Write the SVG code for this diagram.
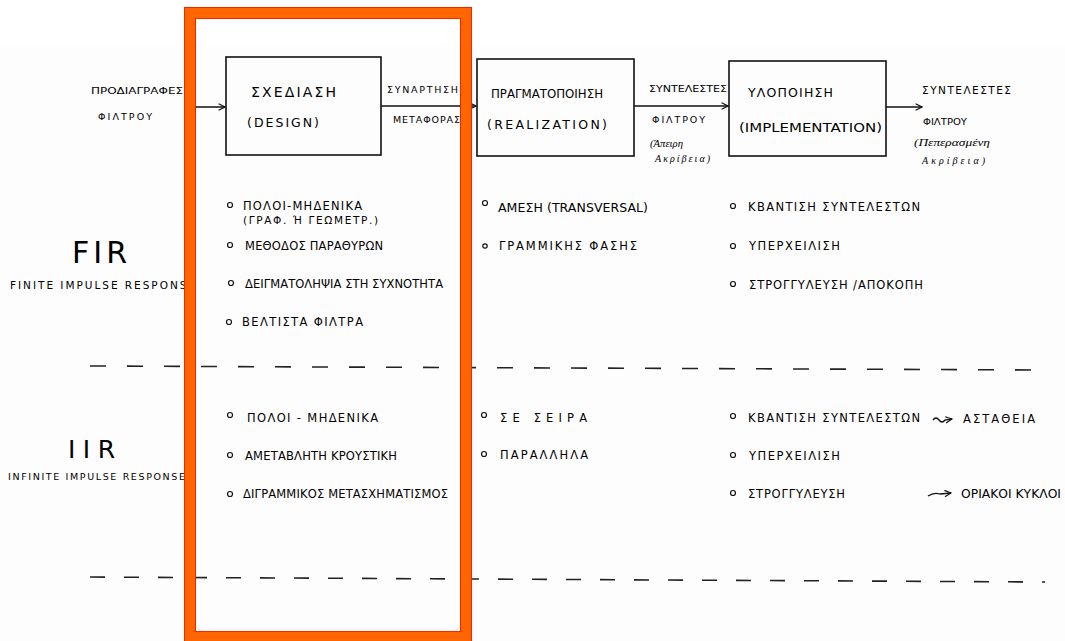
<svg xmlns="http://www.w3.org/2000/svg" width="1065" height="641" viewBox="0 0 1065 641">
<defs>
<style>
.t{font-family:"DejaVu Sans","Liberation Sans",sans-serif;fill:#000;}
.c{font-family:"Liberation Serif","DejaVu Serif",serif;font-style:italic;fill:#000;font-size:10px;}
.box{fill:none;stroke:#111;stroke-width:1.6;}
.ln{fill:none;stroke:#111;stroke-width:1.3;}
.bul{fill:none;stroke:#111;stroke-width:1.2;}
.dash{fill:none;stroke:#222;stroke-width:1.6;}
.s8{font-size:8.5px;}
.s9{font-size:9.5px;}
.s10{font-size:10.5px;}
.s11{font-size:11.5px;}
.s12{font-size:12.5px;}
.s14{font-size:14px;}
</style>
<marker id="ah" viewBox="0 0 10 10" refX="9" refY="5" markerWidth="8" markerHeight="8" markerUnits="userSpaceOnUse" orient="auto">
<path d="M1,1 L9,5 L1,9" fill="none" stroke="#111" stroke-width="1.4"/>
</marker>
</defs>
<rect x="0" y="0" width="1065" height="641" fill="#ffffff"/>
<rect x="0" y="46" width="1065" height="595" fill="#fdfdfd"/>

<g id="input-label">
<text class="t s9" x="91" y="94" textLength="92" lengthAdjust="spacingAndGlyphs">ΠΡΟΔΙΑΓΡΑΦΕΣ</text>
<text class="t s9" x="98" y="120" textLength="54" lengthAdjust="spacing">ΦΙΛΤΡΟΥ</text>
</g>

<g id="design">
<rect class="box" x="226" y="57" width="155" height="98"/>
<text class="t s14" x="251" y="97" textLength="85" lengthAdjust="spacing">ΣΧΕΔΙΑΣΗ</text>
<text class="t s12" x="247" y="127" textLength="72" lengthAdjust="spacing">(DESIGN)</text>
</g>

<g id="transfer-label">
<text class="t s9" x="387" y="93" textLength="71" lengthAdjust="spacing">ΣΥΝΑΡΤΗΣΗ</text>
<text class="t s9" x="393" y="123" textLength="67" lengthAdjust="spacing">ΜΕΤΑΦΟΡΑΣ</text>
</g>

<g id="realization">
<rect class="box" x="477" y="59" width="157" height="97"/>
<text class="t s12" x="491" y="98" textLength="112" lengthAdjust="spacingAndGlyphs">ΠΡΑΓΜΑΤΟΠΟΙΗΣΗ</text>
<text class="t s12" x="487" y="129" textLength="120" lengthAdjust="spacing">(REALIZATION)</text>
</g>

<g id="coef-infinite-label">
<text class="t s8" x="649" y="92" textLength="78" lengthAdjust="spacingAndGlyphs">ΣΥΝΤΕΛΕΣΤΕΣ</text>
<text class="t s9" x="652" y="123" textLength="53" lengthAdjust="spacing">ΦΙΛΤΡΟΥ</text>
<text class="c" x="650" y="147" textLength="33" lengthAdjust="spacingAndGlyphs">(Άπειρη</text>
<text class="c" x="655" y="162" textLength="55" lengthAdjust="spacing">Ακρίβεια)</text>
</g>

<g id="implementation">
<rect class="box" x="729" y="61" width="157" height="95"/>
<text class="t s12" x="748" y="97" textLength="85" lengthAdjust="spacing">ΥΛΟΠΟΙΗΣΗ</text>
<text class="t s12" x="739" y="132" textLength="143" lengthAdjust="spacingAndGlyphs">(IMPLEMENTATION)</text>
</g>

<g id="coef-finite-label">
<text class="t s10" x="922" y="94" textLength="89" lengthAdjust="spacing">ΣΥΝΤΕΛΕΣΤΕΣ</text>
<text class="t s9" x="923" y="125" textLength="44" lengthAdjust="spacingAndGlyphs">ΦΙΛΤΡΟΥ</text>
<text class="c" x="914" y="146" textLength="76" lengthAdjust="spacingAndGlyphs">(Πεπερασμένη</text>
<text class="c" x="922" y="164" textLength="63" lengthAdjust="spacing">Ακρίβεια)</text>
</g>

<g id="connectors">
<line class="ln" x1="184" y1="107" x2="225" y2="107" marker-end="url(#ah)"/>
<line class="ln" x1="381" y1="106" x2="476" y2="106" marker-end="url(#ah)"/>
<line class="ln" x1="634" y1="106" x2="728" y2="106" marker-end="url(#ah)"/>
<line class="ln" x1="886" y1="107" x2="922" y2="107" marker-end="url(#ah)"/>
<path class="ln" d="M933,420 q3,-4 6,0 t6,0 l7,-1" marker-end="url(#ah)"/>
<path class="ln" d="M928,496 q6,-4 12,-2 l11,-1" marker-end="url(#ah)"/>
</g>

<g id="fir">
<text class="t" x="72" y="263" font-size="30" textLength="55" lengthAdjust="spacing">FIR</text>
<text class="t s10" x="10" y="289" textLength="185" lengthAdjust="spacing">FINITE IMPULSE RESPONSE</text>
</g>

<g id="fir-design">
<circle class="bul" cx="230" cy="205" r="2.5"/>
<text class="t s11" x="243" y="210" textLength="119" lengthAdjust="spacing">ΠΟΛΟΙ-ΜΗΔΕΝΙΚΑ</text>
<text class="t s10" x="243" y="224" textLength="135" lengthAdjust="spacing">(ΓΡΑΦ. Ή ΓΕΩΜΕΤΡ.)</text>
<circle class="bul" cx="230" cy="245" r="2.5"/>
<text class="t s11" x="245" y="250" textLength="138" lengthAdjust="spacing">ΜΕΘΟΔΟΣ ΠΑΡΑΘΥΡΩΝ</text>
<circle class="bul" cx="231" cy="283" r="2.5"/>
<text class="t s11" x="245" y="288" textLength="198" lengthAdjust="spacing">ΔΕΙΓΜΑΤΟΛΗΨΙΑ ΣΤΗ ΣΥΧΝΟΤΗΤΑ</text>
<circle class="bul" cx="229" cy="322" r="2.5"/>
<text class="t s11" x="242" y="326" textLength="121" lengthAdjust="spacing">ΒΕΛΤΙΣΤΑ ΦΙΛΤΡΑ</text>
</g>

<g id="fir-realization">
<circle class="bul" cx="485" cy="203" r="2.5"/>
<text class="t s12" x="498" y="212" textLength="150" lengthAdjust="spacing">ΑΜΕΣΗ (TRANSVERSAL)</text>
<circle class="bul" cx="485" cy="246" r="2.2"/>
<text class="t s11" x="499" y="250" textLength="138" lengthAdjust="spacing">ΓΡΑΜΜΙΚΗΣ ΦΑΣΗΣ</text>
</g>

<g id="fir-implementation">
<circle class="bul" cx="733" cy="206" r="2.5"/>
<text class="t s11" x="748" y="211" textLength="172" lengthAdjust="spacing">ΚΒΑΝΤΙΣΗ ΣΥΝΤΕΛΕΣΤΩΝ</text>
<circle class="bul" cx="733" cy="246" r="2.5"/>
<text class="t s11" x="749" y="250" textLength="91" lengthAdjust="spacing">ΥΠΕΡΧΕΙΛΙΣΗ</text>
<circle class="bul" cx="733" cy="284" r="2.5"/>
<text class="t s11" x="749" y="289" textLength="174" lengthAdjust="spacing">ΣΤΡΟΓΓΥΛΕΥΣΗ /ΑΠΟΚΟΠΗ</text>
</g>

<g id="separators">
<path class="dash" d="M90,366 L1045,370" stroke-dasharray="16 21"/>
<path class="dash" d="M90,577 L1045,582" stroke-dasharray="15 19"/>
</g>

<g id="iir">
<text class="t" x="68" y="458" font-size="25" textLength="47" lengthAdjust="spacing">IIR</text>
<text class="t s9" x="8" y="480" textLength="177" lengthAdjust="spacing">INFINITE IMPULSE RESPONSE</text>
</g>

<g id="iir-design">
<circle class="bul" cx="230" cy="415" r="2.5"/>
<text class="t s11" x="247" y="422" textLength="131" lengthAdjust="spacing">ΠΟΛΟΙ - ΜΗΔΕΝΙΚΑ</text>
<circle class="bul" cx="230" cy="455" r="2.5"/>
<text class="t s11" x="245" y="460" textLength="152" lengthAdjust="spacing">ΑΜΕΤΑΒΛΗΤΗ ΚΡΟΥΣΤΙΚΗ</text>
<circle class="bul" cx="230" cy="494" r="2.5"/>
<text class="t s11" x="243" y="498" textLength="205" lengthAdjust="spacing">ΔΙΓΡΑΜΜΙΚΟΣ ΜΕΤΑΣΧΗΜΑΤΙΣΜΟΣ</text>
</g>

<g id="iir-realization">
<circle class="bul" cx="484" cy="415" r="2.5"/>
<text class="t s11" x="500" y="422" textLength="87" lengthAdjust="spacing">ΣΕ ΣΕΙΡΑ</text>
<circle class="bul" cx="484" cy="454" r="2.5"/>
<text class="t s11" x="500" y="459" textLength="88" lengthAdjust="spacing">ΠΑΡΑΛΛΗΛΑ</text>
</g>

<g id="iir-implementation">
<circle class="bul" cx="733" cy="416" r="2.5"/>
<text class="t s11" x="748" y="422" textLength="172" lengthAdjust="spacing">ΚΒΑΝΤΙΣΗ ΣΥΝΤΕΛΕΣΤΩΝ</text>
<text class="t s11" x="963" y="423" textLength="72" lengthAdjust="spacing">ΑΣΤΑΘΕΙΑ</text>
<circle class="bul" cx="733" cy="455" r="2.5"/>
<text class="t s11" x="749" y="460" textLength="91" lengthAdjust="spacing">ΥΠΕΡΧΕΙΛΙΣΗ</text>
<circle class="bul" cx="733" cy="493" r="2.5"/>
<text class="t s11" x="748" y="498" textLength="97" lengthAdjust="spacing">ΣΤΡΟΓΓΥΛΕΥΣΗ</text>
<text class="t s11" x="961" y="498" textLength="100" lengthAdjust="spacingAndGlyphs">ΟΡΙΑΚΟΙ ΚΥΚΛΟΙ</text>
</g>

<g id="highlight">
<rect x="189.5" y="12.5" width="277" height="625" fill="none" stroke="#ff6600" stroke-width="11"/>
<rect x="184.5" y="7.5" width="287" height="640" fill="none" stroke="#ff2200" stroke-width="1"/>
<rect x="195.5" y="18.5" width="265" height="613" fill="none" stroke="#ff2200" stroke-width="1"/>
</g>
</svg>
